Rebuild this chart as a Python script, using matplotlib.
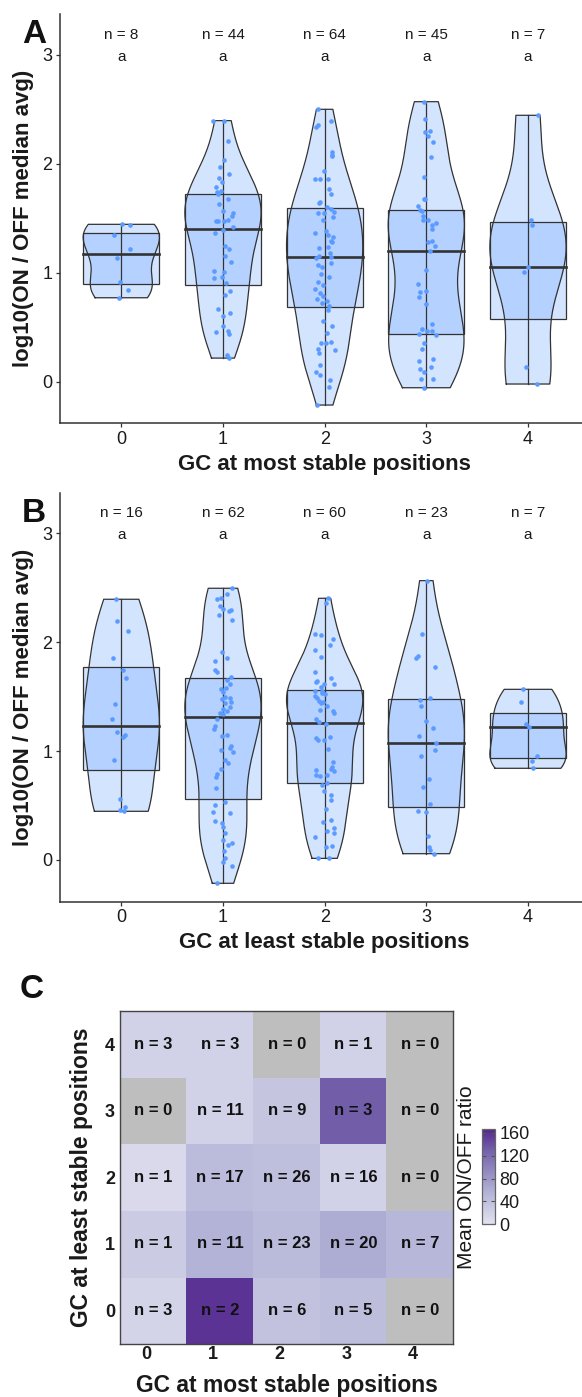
import numpy as np
import matplotlib
matplotlib.use("Agg")
import matplotlib.pyplot as plt
from matplotlib.colors import LinearSegmentedColormap
import matplotlib.transforms as mtransforms

plt.rcParams['font.family'] = ['Liberation Sans', 'DejaVu Sans']

# ---------------- data ----------------
groups = ["0", "1", "2", "3", "4"]
letters_A = ["a", "a", "a", "a", "a"]
letters_B = ["a", "a", "a", "a", "a"]

most_0 = [1.445, 1.436, 1.347, 1.221, 1.133, 0.918, 0.842, 0.771]
most_1 = [2.397, 2.397, 2.207, 2.032, 1.968, 1.910, 1.873, 1.830, 1.791, 1.748, 1.742,
          1.720, 1.674, 1.628, 1.570, 1.546, 1.524, 1.488, 1.475, 1.472, 1.472, 1.417,
          1.393, 1.365, 1.249, 1.215, 1.154, 1.102, 1.016, 1.010, 0.961, 0.955, 0.909,
          0.836, 0.793, 0.664, 0.631, 0.600, 0.508, 0.465, 0.456, 0.441, 0.242, 0.217]
most_2 = [2.501, 2.394, 2.357, 2.339, 2.109, 2.081, 2.075, 1.931, 1.861, 1.858, 1.858,
          1.772, 1.726, 1.647, 1.638, 1.607, 1.586, 1.555, 1.552, 1.546, 1.509, 1.488,
          1.384, 1.365, 1.347, 1.328, 1.295, 1.286, 1.240, 1.224, 1.178, 1.154, 1.145,
          1.139, 1.093, 1.071, 1.056, 0.992, 0.964, 0.915, 0.888, 0.854, 0.817, 0.784,
          0.762, 0.741, 0.719, 0.695, 0.661, 0.560, 0.514, 0.450, 0.364, 0.358, 0.352,
          0.303, 0.291, 0.263, 0.156, 0.092, 0.058, 0.018, -0.049, -0.214]
most_3 = [2.571, 2.409, 2.302, 2.290, 2.256, 2.198, 2.066, 1.882, 1.680, 1.680, 1.616,
          1.573, 1.570, 1.518, 1.488, 1.488, 1.460, 1.439, 1.405, 1.295, 1.279, 1.246,
          1.203, 1.028, 0.900, 0.833, 0.823, 0.781, 0.710, 0.533, 0.487, 0.465, 0.462,
          0.435, 0.432, 0.358, 0.300, 0.211, 0.190, 0.135, 0.119, 0.086, 0.021, 0.021,
          -0.055]
most_4 = [2.446, 1.488, 1.442, 1.050, 1.010, 0.138, -0.021]

least_0 = [2.394, 2.198, 2.106, 1.858, 1.742, 1.674, 1.429, 1.292, 1.172, 1.145, 1.129,
           0.918, 0.560, 0.487, 0.456, 0.447]
least_1 = [2.495, 2.443, 2.409, 2.394, 2.332, 2.302, 2.296, 2.287, 2.250, 2.207, 1.907,
           1.858, 1.830, 1.748, 1.726, 1.677, 1.653, 1.619, 1.576, 1.570, 1.540, 1.500,
           1.485, 1.481, 1.448, 1.439, 1.402, 1.390, 1.368, 1.347, 1.338, 1.295, 1.234,
           1.203, 1.148, 1.142, 1.050, 1.032, 1.010, 0.992, 0.915, 0.888, 0.836, 0.793,
           0.762, 0.658, 0.530, 0.508, 0.444, 0.429, 0.355, 0.340, 0.300, 0.245, 0.187,
           0.156, 0.138, 0.086, 0.015, -0.021, -0.055, -0.214]
least_2 = [2.403, 2.357, 2.072, 2.066, 2.032, 1.971, 1.928, 1.867, 1.723, 1.674, 1.647,
           1.638, 1.613, 1.613, 1.586, 1.552, 1.549, 1.530, 1.524, 1.506, 1.485, 1.463,
           1.454, 1.439, 1.417, 1.380, 1.365, 1.347, 1.292, 1.270, 1.246, 1.126, 1.117,
           1.105, 1.102, 1.016, 0.897, 0.857, 0.839, 0.826, 0.817, 0.781, 0.781, 0.768,
           0.710, 0.689, 0.631, 0.600, 0.551, 0.465, 0.364, 0.352, 0.294, 0.263, 0.245,
           0.208, 0.132, 0.119, 0.018, 0.015]
least_3 = [2.565, 2.078, 1.873, 1.858, 1.772, 1.485, 1.466, 1.411, 1.279, 1.212, 1.142,
           1.071, 1.013, 0.952, 0.744, 0.667, 0.514, 0.453, 0.441, 0.217, 0.116, 0.092,
           0.058]
least_4 = [1.567, 1.448, 1.246, 1.218, 0.958, 0.909, 0.842]

# heatmap: rows = GC at least stable (0..4), cols = GC at most stable (0..4)
heat_counts = [
    [3, 2, 6, 5, 0],
    [1, 11, 23, 20, 7],
    [1, 17, 26, 16, 0],
    [0, 11, 9, 3, 0],
    [3, 3, 0, 1, 0],
]
heat_means = [
    [16, 158, 37, 43, np.nan],
    [26, 54, 47, 61, 50],
    [10, 46, 42, 19, np.nan],
    [np.nan, 20, 34, 131, np.nan],
    [20, 20, np.nan, 19, np.nan],
]
cbar_ticks = [0, 40, 80, 120, 160]
cbar_limits = (0, 166)

# ---------------- style ----------------
W, H = 582, 1397
fig = plt.figure(figsize=(W / 100, H / 100), dpi=100)

FILL = "#6fa8ff"
EDGE = "#333333"
PT = "#5b9bff"
TXT = "#1a1a1a"


def nrd0(x):
    x = np.asarray(x)
    sd = np.std(x, ddof=1)
    q1, q3 = np.percentile(x, [25, 75])
    lo = min(sd, (q3 - q1) / 1.34)
    if lo <= 0:
        lo = sd
    return 0.9 * lo * len(x) ** -0.2


def violin_box(ax, data_list, seed):
    rng = np.random.default_rng(seed)
    for i, vals in enumerate(data_list):
        v = np.asarray(vals, float)
        bw = nrd0(v)
        grid = np.linspace(v.min(), v.max(), 512)
        dens = np.exp(-0.5 * ((grid[:, None] - v[None, :]) / bw) ** 2).sum(1)
        half = dens / dens.max() * 0.375
        ax.fill_betweenx(grid, i - half, i + half, color=FILL, alpha=0.3, lw=0, zorder=1)
        xs = np.concatenate([i - half, (i + half)[::-1], [(i - half)[0]]])
        ys = np.concatenate([grid, grid[::-1], [grid[0]]])
        ax.plot(xs, ys, color=EDGE, lw=0.9, zorder=3)
        q1, med, q3 = np.percentile(v, [25, 50, 75])
        ax.add_patch(plt.Rectangle((i - 0.375, q1), 0.75, q3 - q1, facecolor=FILL,
                                   alpha=0.3, lw=0, zorder=2))
        ax.add_patch(plt.Rectangle((i - 0.375, q1), 0.75, q3 - q1, facecolor="none",
                                   edgecolor=EDGE, lw=0.9, zorder=3))
        ax.plot([i, i], [v.min(), v.max()], color=EDGE, lw=0.9, zorder=3)
        ax.plot([i - 0.375, i + 0.375], [med, med], color=EDGE, lw=1.9, zorder=3.5)
        jit = rng.uniform(-0.1, 0.1, len(v))
        ax.scatter(i + jit, v, s=11, color=PT, lw=0, zorder=4)


def style_axes(ax, data_list, letters, xlabel):
    ax.set_xlim(-0.6, 4.6)
    ax.set_xticks(range(len(groups)))
    ax.set_xticklabels(groups)
    ax.set_yticks([0, 1, 2, 3])
    for s in ["top", "right"]:
        ax.spines[s].set_visible(False)
    for s in ["left", "bottom"]:
        ax.spines[s].set_color(EDGE)
        ax.spines[s].set_linewidth(1.1)
    ax.tick_params(axis="both", length=3.2, width=0.9, color=EDGE, labelsize=13,
                   labelcolor=TXT, pad=2.4)
    for i, vals in enumerate(data_list):
        ax.text(i, 3.15, "n = %d" % len(vals), ha="center", va="baseline",
                fontsize=11, color=TXT)
        ax.text(i, 2.945, letters[i], ha="center", va="baseline", fontsize=11, color=TXT)
    ax.set_xlabel(xlabel, fontsize=16, fontweight="bold", color=TXT)
    ax.xaxis.label.set_va("baseline")
    ax.set_ylabel("log10(ON / OFF median avg)", fontsize=16, fontweight="bold", color=TXT)
    ax.yaxis.label.set_va("center")


# Panel A
axA = fig.add_axes([60.3 / W, 1 - 423 / H, (589 - 60.3) / W, 409 / H])
axA.set_ylim(-0.379, 3.376)
dataA = [most_0, most_1, most_2, most_3, most_4]
violin_box(axA, dataA, 1)
style_axes(axA, dataA, letters_A, "GC at most stable positions")
axA.xaxis.set_label_coords(0.5, -(470 - 423) / 409)
axA.yaxis.set_label_coords(-(60.3 - 23.5) / (589 - 60.3), 0.5)

# Panel B
axB = fig.add_axes([60.3 / W, 1 - 901.7 / H, (589 - 60.3) / W, 408.4 / H])
axB.set_ylim(-0.383, 3.367)
dataB = [least_0, least_1, least_2, least_3, least_4]
violin_box(axB, dataB, 2)
style_axes(axB, dataB, letters_B, "GC at least stable positions")
axB.xaxis.set_label_coords(0.5, -(948 - 901.7) / 408.4)
axB.yaxis.set_label_coords(-(60.3 - 23.5) / (589 - 60.3), 0.5)

# Panel C
axC = fig.add_axes([120.3 / W, 1 - 1343.7 / H, 333 / W, 332.7 / H])
cmap = LinearSegmentedColormap.from_list(
    "pur", [(0.0, "#e2e2f0"), (0.36, "#afafd5"), (0.78, "#7361aa"), (1.0, "#54278f")])
cmap.set_bad("#bebebe")
means = np.ma.masked_invalid(np.array(heat_means, float))
im = axC.imshow(means, origin="lower", cmap=cmap, vmin=cbar_limits[0], vmax=cbar_limits[1],
                aspect="auto", extent=(-0.5, 4.5, -0.5, 4.5), interpolation="nearest")
for r in range(5):
    for c in range(5):
        axC.text(c, r, "n = %d" % heat_counts[r][c], ha="center", va="center",
                 fontsize=12, fontweight="bold", color="#111111")
axC.set_xticks(range(5))
axC.set_xticklabels(groups)
axC.set_yticks(range(5))
axC.set_yticklabels(groups)
axC.tick_params(axis="both", length=0, labelsize=13, labelcolor=TXT)
axC.tick_params(axis="x", pad=1.5)
axC.tick_params(axis="y", pad=3.8)
for lab in axC.get_xticklabels():
    lab.set_fontweight("bold")
    lab.set_transform(lab.get_transform() + mtransforms.ScaledTranslation(-7 / 100, 0, fig.dpi_scale_trans))
for lab in axC.get_yticklabels():
    lab.set_fontweight("bold")
for s in axC.spines.values():
    s.set_color("#444444")
    s.set_linewidth(1.0)
axC.set_xlabel("GC at most stable positions", fontsize=16.5, fontweight="bold", color=TXT)
axC.xaxis.label.set_va("baseline")
axC.xaxis.set_label_coords(0.5, -(1392 - 1343.7) / 332.7)
axC.set_ylabel("GC at least stable positions", fontsize=16.5, fontweight="bold", color=TXT)
axC.yaxis.label.set_va("center")
axC.yaxis.set_label_coords(-(120.3 - 81.5) / 333, 0.5)

cax = fig.add_axes([481.7 / W, 1 - 1224.3 / H, 13.3 / W, 95 / H])
cb = fig.colorbar(im, cax=cax, ticks=cbar_ticks)
cb.outline.set_edgecolor("#666666")
cb.outline.set_linewidth(0.9)
cax.tick_params(which="both", left=True, right=True, direction="in", length=3,
                width=0.8, color="#555555", labelsize=13, labelcolor=TXT, pad=3)
fig.text(466 / W, 1 - 1177 / H, "Mean ON/OFF ratio", rotation=90, ha="center",
         va="center", fontsize=15, color=TXT)

# panel letters
fig.text(22 / W, 1 - 43 / H, "A", fontsize=24, fontweight="bold", va="baseline", color="#111111")
fig.text(22 / W, 1 - 521.7 / H, "B", fontsize=24, fontweight="bold", va="baseline", color="#111111")
fig.text(20 / W, 1 - 998 / H, "C", fontsize=24, fontweight="bold", va="baseline", color="#111111")

fig.savefig("out.png", dpi=100)
